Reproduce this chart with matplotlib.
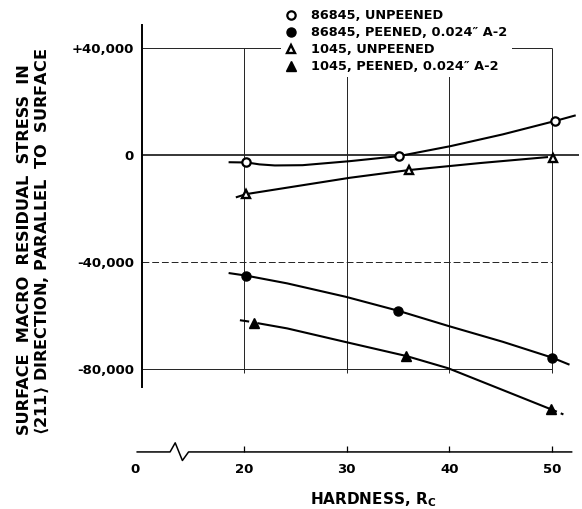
import numpy as np
import matplotlib.pyplot as plt

plt.rcParams['font.family'] = ['DejaVu Sans']
plt.rcParams['font.weight'] = 'bold'
plt.rcParams['mathtext.fontset'] = 'dejavusans'

# measured points: hardness (Rc) vs surface residual stress (psi)
hard_86845_un = [20.2, 35.1, 50.3]
stress_86845_un = [-2600, -400, 12700]
hard_86845_pe = [20.2, 35.0, 50.0]
stress_86845_pe = [-45000, -58100, -75600]
hard_1045_un = [20.2, 36.1, 50.1]
stress_1045_un = [-14600, -5600, -1100]
hard_1045_pe = [21.0, 35.8, 49.9]
stress_1045_pe = [-62600, -75000, -94900]

# faired curves
cx_86845_un = [18.6, 20.3, 21.5, 23.0, 25.7, 30.3, 35.1, 40.1, 45.2, 50.3, 52.2]
cy_86845_un = [-2700, -2800, -3500, -3900, -3800, -2300, -400, 3300, 7700, 12700, 14700]
cx_86845_pe = [18.6, 20.2, 24.2, 29.9, 35.0, 39.9, 45.2, 50.0, 51.6]
cy_86845_pe = [-44100, -45000, -47900, -52900, -58100, -63800, -69700, -75600, -78100]
cx_1045_un = [19.3, 20.2, 25.0, 30.3, 36.1, 43.0, 49.5]
cy_1045_un = [-15700, -14600, -11700, -8500, -5600, -3000, -800]
cx_1045_pe = [19.7, 20.4, 21.4, 24.2, 29.8, 35.8, 39.9, 45.2, 49.9, 51.1]
cy_1045_pe = [-61700, -62100, -62800, -64700, -69700, -75000, -79600, -87700, -94900, -96800]

labels = ['86845, UNPEENED',
          '86845, PEENED, 0.024\u2033 A-2',
          '1045, UNPEENED',
          '1045, PEENED, 0.024\u2033 A-2']

ytick_vals = [40000, 0, -40000, -80000]
ytick_text = ['+40,000', '0', '-40,000', '-80,000']
xtick_vals = [9.4, 20, 30, 40, 50]
xtick_text = ['0', '20', '30', '40', '50']

fig = plt.figure(figsize=(5.82, 5.09), dpi=100)
ax = fig.add_axes([0, 0, 1, 1])
ax.set_xlim(-3.76, 52.91)
ax.set_ylim(-132090, 57836)

# grid box
grid_kw = dict(color='#222222', linewidth=0.7, zorder=1)
ax.hlines(40000, 10.1, 50, **grid_kw)
ax.hlines(0, 10.1, 52.6, color='black', linewidth=1.1, zorder=1)
ax.hlines(-40000, 10.1, 50, linestyles=(0, (7, 3)), **grid_kw)
ax.hlines(-80000, 10.1, 50, **grid_kw)
ax.vlines([20, 30, 40, 50], -81500, 40000, **grid_kw)

# axes lines
ax.spines[['top', 'right']].set_visible(False)
ax.spines['left'].set_position(('data', 10.1))
ax.spines['left'].set_bounds(-86600, 48500)
ax.spines['left'].set_linewidth(1.4)
ax.spines['bottom'].set_position(('data', -110800))
ax.spines['bottom'].set_color('none')
ax.plot([9.6, 12.8, 13.3, 14.0, 14.6, 51.9],
        [-110800, -110800, -107400, -114000, -110800, -110800],
        color='black', linewidth=1.1, clip_on=False)

ax.set_yticks(ytick_vals, ytick_text, fontsize=9.5)
ax.tick_params(axis='y', length=0, pad=6)
ax.set_xticks(xtick_vals, xtick_text, fontsize=9.5)
ax.tick_params(axis='x', direction='in', length=4, width=0.9, pad=8)
ax.xaxis.get_major_ticks()[0].tick1line.set_visible(False)

# curves
line_kw = dict(color='black', linewidth=1.5, zorder=3)
ax.plot(cx_86845_un, cy_86845_un, **line_kw)
ax.plot(cx_86845_pe, cy_86845_pe, **line_kw)
ax.plot(cx_1045_un, cy_1045_un, **line_kw)
ax.plot(cx_1045_pe[:2], cy_1045_pe[:2], **line_kw)
ax.plot(cx_1045_pe[2:-1], cy_1045_pe[2:-1], **line_kw)
ax.plot(cx_1045_pe[-2:], cy_1045_pe[-2:], linestyle=(0, (3, 2)), **line_kw)

# points
ax.plot(hard_86845_un, stress_86845_un, 'o', ms=6, mfc='white', mec='black', mew=1.6,
        zorder=4, label=labels[0])
ax.plot(hard_86845_pe, stress_86845_pe, 'o', ms=6.5, mfc='black', mec='black',
        zorder=4, label=labels[1])
ax.plot(hard_1045_un, stress_1045_un, '^', ms=6, mfc='white', mec='black', mew=1.7,
        zorder=4, label=labels[2])
ax.plot(hard_1045_pe, stress_1045_pe, '^', ms=6.5, mfc='black', mec='black',
        zorder=4, label=labels[3])

leg = ax.legend(loc='upper left', bbox_to_anchor=(0.483, 0.989), borderaxespad=0,
                frameon=True, facecolor='white', edgecolor='none', framealpha=1,
                fancybox=False, handlelength=1.0, handletextpad=1.05,
                labelspacing=0.3, borderpad=0.3, prop=dict(size=9.3, weight='bold'))
leg.set_zorder(6)

ax.set_ylabel('SURFACE  MACRO  RESIDUAL  STRESS  IN\n'
              r'$\langle$211$\rangle$ DIRECTION, PARALLEL  TO  SURFACE',
              fontsize=11.6, fontweight='bold', multialignment='left', linespacing=1.1)
ax.yaxis.set_label_coords(0.088, 0.525)
ax.set_xlabel(r'HARDNESS, R$_{\mathbf{C}}$', fontsize=11, fontweight='bold')
ax.xaxis.set_label_coords(0.641, 0.036)

fig.savefig('out.png', dpi=100)
